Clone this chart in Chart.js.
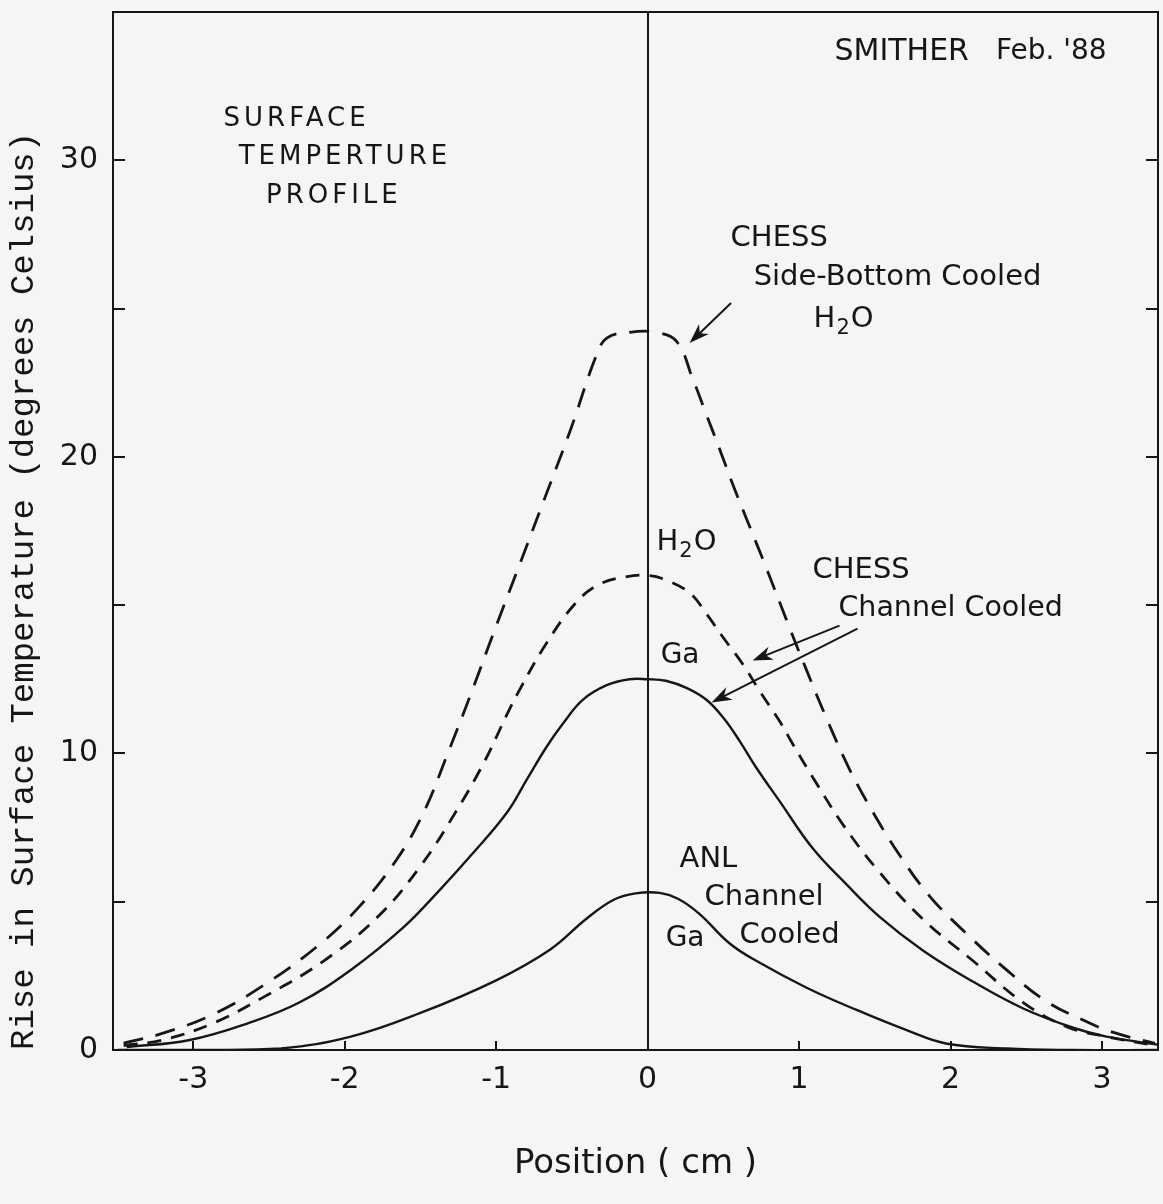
<!DOCTYPE html>
<html>
<head>
<meta charset="utf-8">
<title>Surface Temperature Profile</title>
<script src="https://cdn.jsdelivr.net/npm/chart.js@4.4.1/dist/chart.umd.min.js"></script>
<style>
  html, body { margin: 0; padding: 0; background: #f4f6f5; }
  canvas { display: block; }
</style>
</head>
<body>
<canvas id="chart" width="1163" height="1204"></canvas>
<script>
// values (position in cm, rise in deg C)
const xTicks = [-3, -2, -1, 0, 1, 2, 3];
const yRightTicks = [5, 10, 15, 20, 25, 30];

// CHESS side-bottom cooled, H2O (long dashes)
const sideBottomX = [-3.46, -3.21, -2.87, -2.53, -2.18, -1.91, -1.66, -1.48, -1.32, -1.16, -1.0, -0.85, -0.68, -0.51, -0.34, -0.27, -0.12, 0.05, 0.19, 0.30, 0.39, 0.48, 0.56, 0.65, 0.78, 0.94, 1.05, 1.18, 1.33, 1.49, 1.66, 1.86, 2.10, 2.37, 2.63, 2.90, 3.07, 3.35];
const sideBottomY = [0.23, 0.55, 1.2, 2.2, 3.5, 4.8, 6.4, 8.0, 10.0, 12.1, 14.3, 16.3, 18.6, 20.9, 23.4, 24.0, 24.2, 24.2, 23.9, 22.6, 21.4, 20.2, 19.1, 17.95, 16.3, 14.2, 12.8, 11.2, 9.5, 8.0, 6.6, 5.2, 3.95, 2.7, 1.65, 0.95, 0.6, 0.22];

// CHESS channel cooled, H2O (short dashes)
const channelH2OX = [-3.46, -3.21, -2.87, -2.53, -2.14, -1.78, -1.50, -1.27, -1.08, -0.93, -0.85, -0.67, -0.47, -0.32, -0.15, 0.0, 0.12, 0.28, 0.39, 0.50, 0.63, 0.74, 0.87, 0.96, 1.09, 1.29, 1.53, 1.82, 2.15, 2.48, 2.77, 3.03, 3.35];
const channelH2OY = [0.15, 0.33, 0.9, 1.8, 3.0, 4.5, 6.2, 8.0, 9.7, 11.3, 12.1, 13.7, 15.1, 15.7, 15.95, 16.0, 15.85, 15.4, 14.7, 13.9, 13.0, 12.1, 11.1, 10.3, 9.2, 7.6, 6.0, 4.4, 3.0, 1.6, 0.78, 0.45, 0.15];

// CHESS channel cooled, Ga (solid)
const channelGaX = [-3.44, -3.03, -2.64, -2.30, -1.96, -1.62, -1.39, -1.16, -0.93, -0.80, -0.67, -0.56, -0.43, -0.27, -0.12, 0.0, 0.12, 0.26, 0.39, 0.50, 0.61, 0.72, 0.87, 1.09, 1.31, 1.53, 1.82, 2.15, 2.48, 2.81, 3.03, 3.38];
const channelGaY = [0.1, 0.33, 0.9, 1.6, 2.7, 4.1, 5.3, 6.6, 8.0, 9.1, 10.2, 11.0, 11.8, 12.3, 12.5, 12.5, 12.45, 12.2, 11.8, 11.2, 10.4, 9.5, 8.4, 6.8, 5.6, 4.5, 3.35, 2.3, 1.4, 0.75, 0.45, 0.17];

// ANL channel cooled, Ga (solid)
const anlGaX = [-3.5, -2.87, -2.42, -1.96, -1.50, -1.0, -0.64, -0.41, -0.23, -0.08, 0.08, 0.2, 0.34, 0.54, 0.72, 1.05, 1.38, 1.71, 1.97, 2.37, 2.8, 3.38];
const anlGaY = [0, 0, 0.05, 0.45, 1.25, 2.35, 3.4, 4.4, 5.05, 5.28, 5.3, 5.1, 4.6, 3.6, 3.0, 2.1, 1.35, 0.67, 0.22, 0.05, 0, 0];

const ink = '#161616';
const sans = 'DejaVu Sans';

function pts(xs, ys) {
    return xs.map((x, i) => ({ x: x, y: ys[i] }));
}

function curve(label, xs, ys, dash, width) {
    return {
        label: label,
        data: pts(xs, ys),
        showLine: true,
        borderColor: ink,
        borderWidth: width,
        borderDash: dash,
        pointRadius: 0,
        tension: 0.4,
        fill: false,
        xAxisID: 'x',
        yAxisID: 'y'
    };
}

// drop the label padding chart.js reserves so the frame fills the canvas
function noPad(s) {
    s.paddingTop = 0;
    s.paddingBottom = 0;
    s.paddingLeft = 0;
    s.paddingRight = 0;
}

// text notes and arrows, placed in data units
const notes = [
    { t: 'SMITHER', x: 1.234, y: 33.75, size: 30 },
    { t: "Feb. '88", x: 2.30, y: 33.75, size: 28 },
    { t: 'SURFACE', x: -2.80, y: 31.48, size: 26, spaced: true },
    { t: 'TEMPERTURE', x: -2.70, y: 30.20, size: 26, spaced: true },
    { t: 'PROFILE', x: -2.52, y: 28.89, size: 26, spaced: true },
    { t: 'CHESS', x: 0.548, y: 27.47, size: 29 },
    { t: 'Side-Bottom Cooled', x: 0.70, y: 26.16, size: 29 },
    { t: 'H2O', x: 1.096, y: 24.75, size: 29 },
    { t: 'H2O', x: 0.059, y: 17.2, size: 29 },
    { t: 'CHESS', x: 1.089, y: 16.26, size: 29 },
    { t: 'Channel Cooled', x: 1.26, y: 15.0, size: 28.5 },
    { t: 'Ga', x: 0.086, y: 13.4, size: 28 },
    { t: 'ANL', x: 0.211, y: 6.53, size: 29 },
    { t: 'Channel', x: 0.376, y: 5.25, size: 29 },
    { t: 'Ga', x: 0.119, y: 3.84, size: 28 },
    { t: 'Cooled', x: 0.607, y: 3.97, size: 29 }
];
const arrows = [
    [0.551, 25.19, 0.277, 23.84],
    [1.267, 14.31, 0.693, 13.13],
    [1.386, 14.21, 0.422, 11.72]
];

const annotate = {
    id: 'annotate',
    afterDatasetsDraw(chart) {
        const ctx = chart.ctx;
        const sx = chart.scales.x, sy = chart.scales.y;
        ctx.save();
        ctx.fillStyle = ink;
        ctx.strokeStyle = ink;
        ctx.textAlign = 'left';
        ctx.textBaseline = 'alphabetic';
        notes.forEach(n => {
            let px = sx.getPixelForValue(n.x);
            const base = sy.getPixelForValue(n.y) + n.size * 0.365;
            ctx.font = n.size + 'px "' + sans + '"';
            ctx.letterSpacing = n.spaced ? '4px' : '0px';
            if (n.t === 'H2O') {
                ctx.fillText('H', px, base);
                px += ctx.measureText('H').width + 1;
                ctx.font = Math.round(n.size * 0.72) + 'px "' + sans + '"';
                ctx.fillText('2', px, base + 7);
                px += ctx.measureText('2').width + 1;
                ctx.font = n.size + 'px "' + sans + '"';
                ctx.fillText('O', px, base);
            } else {
                ctx.fillText(n.t, px, base);
            }
        });
        ctx.letterSpacing = '0px';
        ctx.lineWidth = 2;
        arrows.forEach(a => {
            const x1 = sx.getPixelForValue(a[0]), y1 = sy.getPixelForValue(a[1]);
            const x2 = sx.getPixelForValue(a[2]), y2 = sy.getPixelForValue(a[3]);
            const ang = Math.atan2(y2 - y1, x2 - x1);
            const c = Math.cos(ang), s = Math.sin(ang);
            ctx.beginPath();
            ctx.moveTo(x1, y1);
            ctx.lineTo(x2 - 8 * c, y2 - 8 * s);
            ctx.stroke();
            ctx.beginPath();
            ctx.moveTo(x2, y2);
            ctx.lineTo(x2 - 20 * c + 7 * s, y2 - 20 * s - 7 * c);
            ctx.lineTo(x2 - 14 * c, y2 - 14 * s);
            ctx.lineTo(x2 - 20 * c - 7 * s, y2 - 20 * s + 7 * c);
            ctx.closePath();
            ctx.fill();
        });
        ctx.restore();
    }
};

new Chart(document.getElementById('chart'), {
    type: 'scatter',
    data: {
        datasets: [
            curve('CHESS Side-Bottom Cooled H2O', sideBottomX, sideBottomY, [20, 13], 2.8),
            curve('CHESS Channel Cooled H2O', channelH2OX, channelH2OY, [14, 10], 2.8),
            curve('CHESS Channel Cooled Ga', channelGaX, channelGaY, [], 2.4),
            curve('ANL Channel Cooled Ga', anlGaX, anlGaY, [], 2.4)
        ]
    },
    options: {
        responsive: false,
        animation: false,
        devicePixelRatio: 1,
        layout: { padding: 0 },
        plugins: {
            legend: { display: false },
            tooltip: { enabled: false }
        },
        scales: {
            x: {
                type: 'linear',
                position: 'bottom',
                min: -3.53,
                max: 3.37,
                afterBuildTicks: s => { s.ticks = xTicks.map(v => ({ value: v })); },
                afterFit: s => { s.height = 154; noPad(s); },
                border: { display: true, color: ink, width: 2 },
                grid: {
                    color: c => (c.tick && c.tick.value === 0) ? ink : 'rgba(0,0,0,0)',
                    lineWidth: 2,
                    tickColor: ink,
                    tickLength: -9
                },
                ticks: {
                    color: ink,
                    font: { family: sans, size: 30 },
                    padding: 21,
                    maxRotation: 0,
                    autoSkip: false
                },
                title: {
                    display: true,
                    text: 'Position ( cm )',
                    color: ink,
                    font: { family: sans, size: 34, lineHeight: 1.2 },
                    padding: { top: 0, bottom: 19 }
                }
            },
            xTop: {
                type: 'linear',
                position: 'top',
                min: -3.53,
                max: 3.37,
                afterFit: s => { s.height = 12; noPad(s); },
                border: { display: true, color: ink, width: 2 },
                grid: { display: false },
                ticks: { display: false }
            },
            y: {
                type: 'linear',
                position: 'left',
                min: 0,
                max: 35,
                afterFit: s => { s.width = 113; noPad(s); },
                border: { display: true, color: ink, width: 2 },
                grid: { drawOnChartArea: false, tickColor: ink, tickLength: -12, lineWidth: 2 },
                ticks: {
                    stepSize: 5,
                    callback: v => (v % 10 === 0 ? String(v) : ''),
                    color: ink,
                    font: { family: sans, size: 30 },
                    padding: 27
                },
                title: {
                    display: true,
                    text: 'Rise in Surface Temperature (degrees Celsius)',
                    align: 'start',
                    color: ink,
                    font: { family: 'Liberation Mono', size: 34, lineHeight: 1.2 },
                    padding: { top: 4, bottom: 0 }
                }
            },
            yR: {
                type: 'linear',
                position: 'right',
                min: 0,
                max: 35,
                afterBuildTicks: s => { s.ticks = yRightTicks.map(v => ({ value: v })); },
                afterFit: s => { s.width = 5; noPad(s); },
                border: { display: true, color: ink, width: 2 },
                grid: { drawOnChartArea: false, tickColor: ink, tickLength: -12, lineWidth: 2 },
                ticks: { display: false }
            }
        }
    },
    plugins: [annotate]
});
</script>
</body>
</html>
